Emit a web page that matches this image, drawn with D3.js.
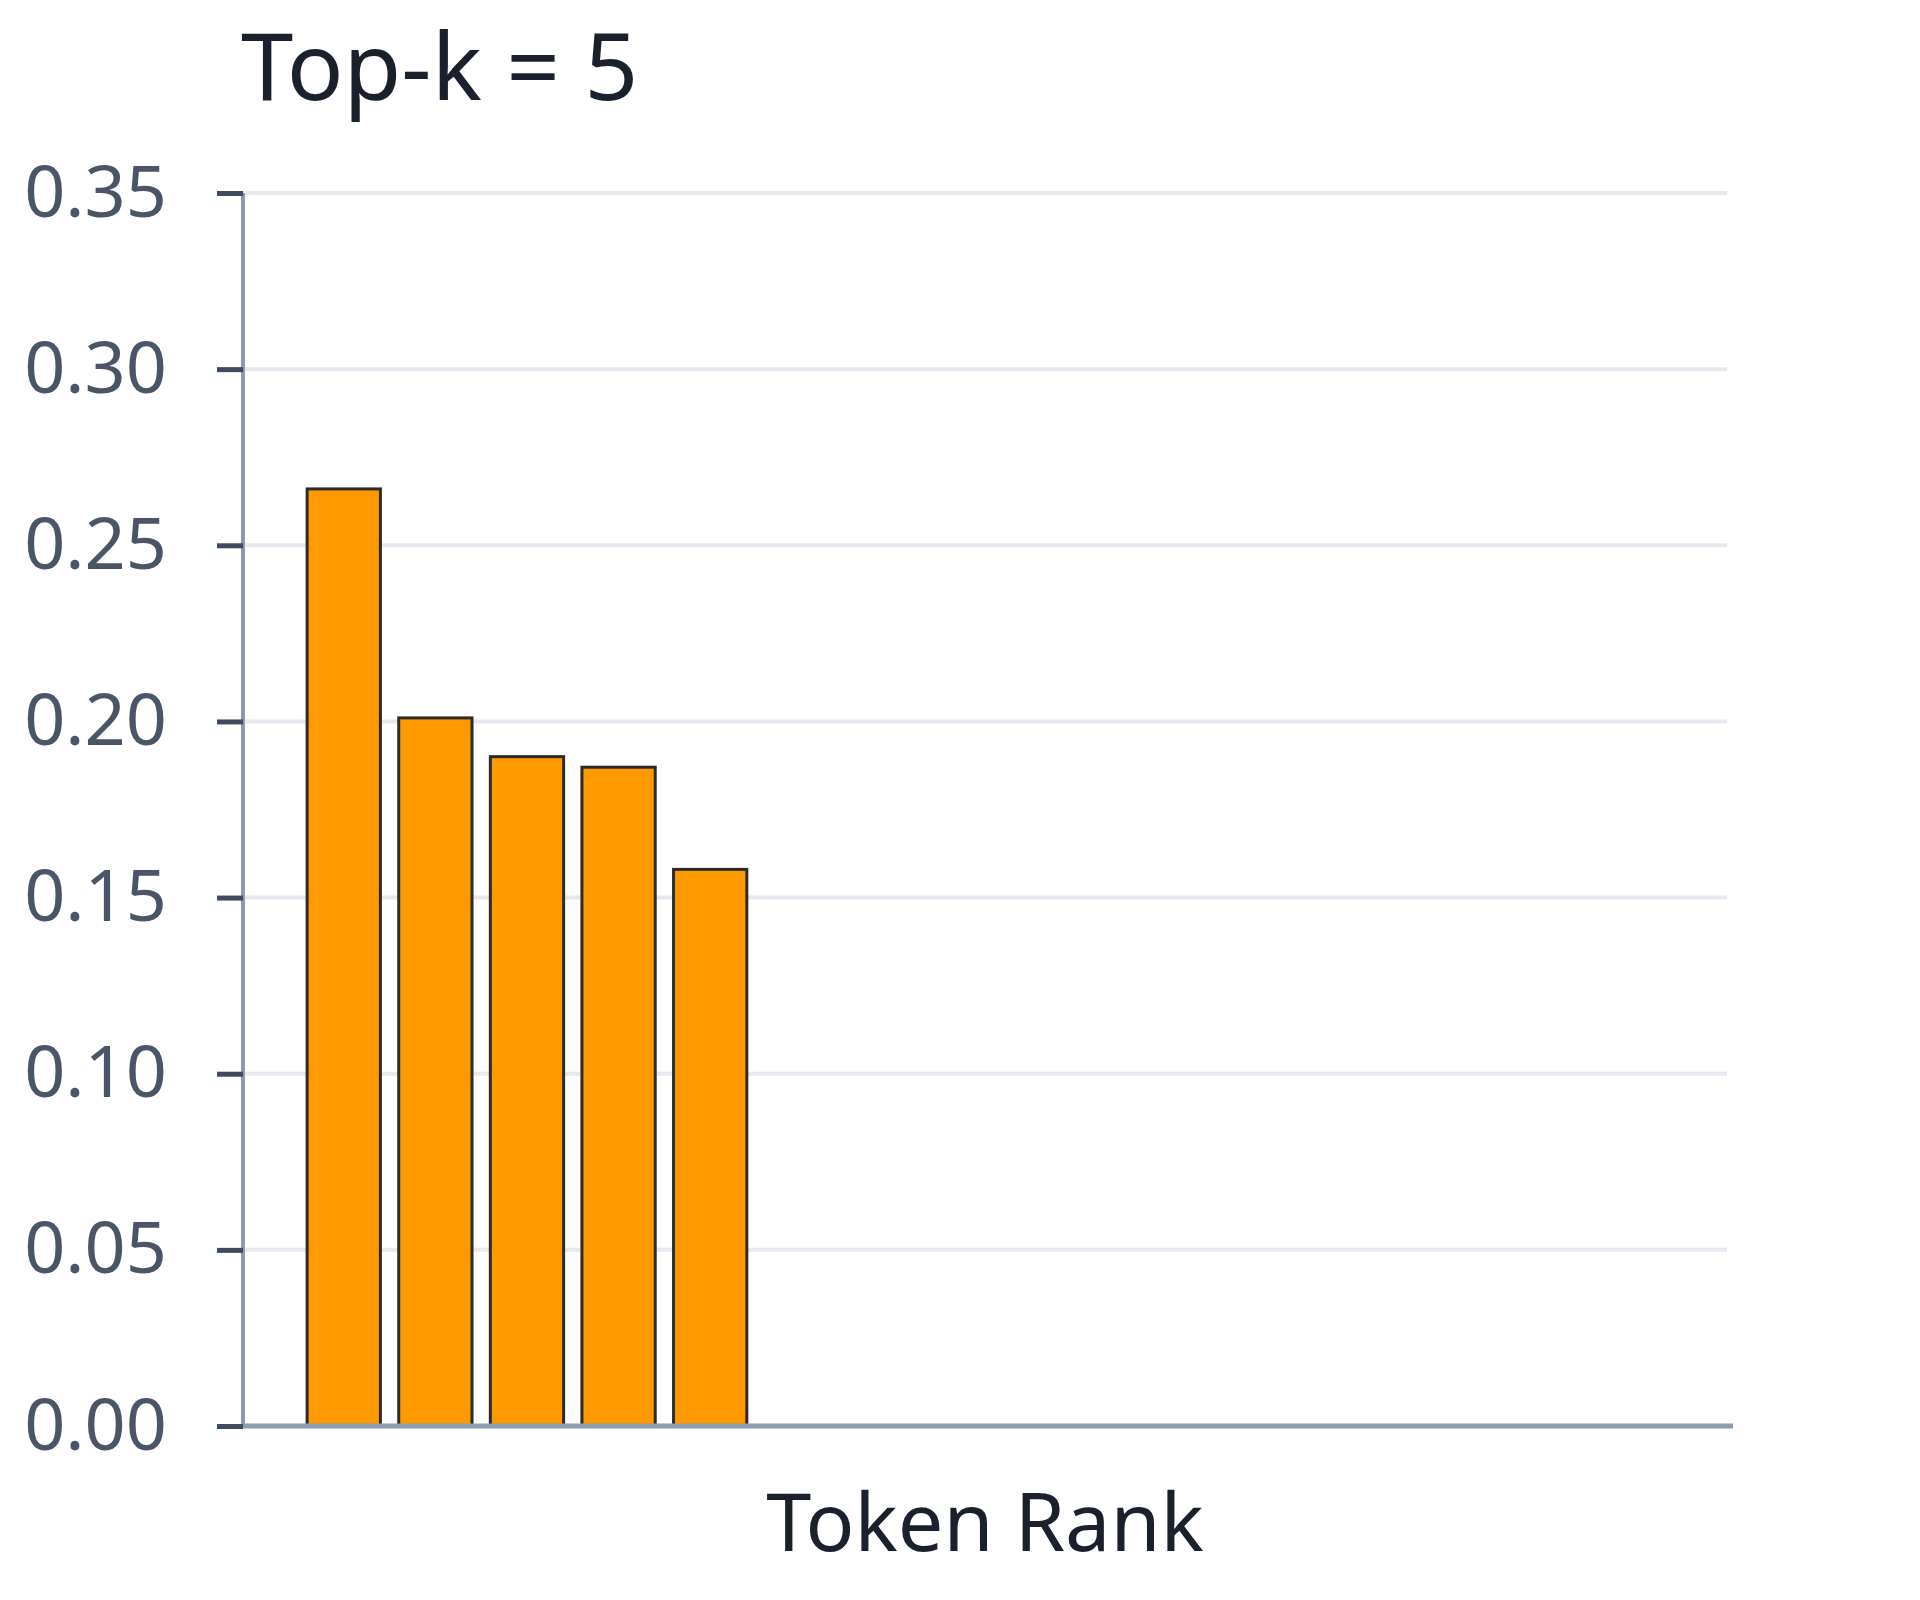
<!DOCTYPE html>
<html>
<head>
<meta charset="utf-8">
<script src="https://cdn.jsdelivr.net/npm/d3@7"></script>
<style>
  html, body { margin: 0; padding: 0; background: #ffffff; }
  svg { display: block; }
</style>
</head>
<body>
<svg id="chart" width="1920" height="1600"></svg>
<script>
// ---- data ----
const chartTitle = "Top-k = 5";
const xLabel = "Token Rank";
const ranks = [1, 2, 3, 4, 5, 6, 7, 8, 9, 10, 11, 12, 13, 14, 15];
const probRanks = [1, 2, 3, 4, 5];
const probabilities = [0.266, 0.201, 0.190, 0.187, 0.158];
const yTicks = [0.00, 0.05, 0.10, 0.15, 0.20, 0.25, 0.30, 0.35];

// ---- layout ----
const svg = d3.select("#chart");
const plotLeft = 243, plotRight = 1727, plotTop = 193, plotBottom = 1426;
const fontFam = "'Noto Sans', 'Open Sans', sans-serif";

const x = d3.scaleBand().domain(ranks).range([plotLeft, plotRight]).paddingInner(0.2).paddingOuter(0.7);
const y = d3.scaleLinear().domain([0, 0.35]).range([plotBottom, plotTop]);

// gridlines
svg.append("g").selectAll("line").data(yTicks.filter(d => d > 0)).join("line")
  .attr("x1", plotLeft).attr("x2", plotRight)
  .attr("y1", d => y(d)).attr("y2", d => y(d))
  .attr("stroke", "#e5e8ee").attr("stroke-width", 4);

// bars
svg.append("g").selectAll("rect").data(probRanks).join("rect")
  .attr("x", d => x(d))
  .attr("width", x.bandwidth())
  .attr("y", (d, i) => y(probabilities[i]))
  .attr("height", (d, i) => y(0) - y(probabilities[i]))
  .attr("fill", "#ff9900")
  .attr("stroke", "#2b2b2b")
  .attr("stroke-width", 3);

// y axis
const yAxis = svg.append("g").attr("transform", `translate(${plotLeft},0)`)
  .call(d3.axisLeft(y).tickValues(yTicks).tickFormat(d3.format(".2f")).tickSize(26).tickPadding(50));
yAxis.select(".domain").attr("stroke", "#8d9bb0").attr("stroke-width", 4)
  .attr("d", `M0,${plotTop}V${plotBottom}`);
yAxis.selectAll(".tick line").attr("stroke", "#3f4a5a").attr("stroke-width", 5);
yAxis.selectAll(".tick text")
  .attr("fill", "#4a5568")
  .style("font-family", fontFam)
  .style("font-size", "72px");

// x axis line
svg.append("line")
  .attr("x1", plotLeft).attr("x2", 1733)
  .attr("y1", y(0)).attr("y2", y(0))
  .attr("stroke", "#8d9bb0").attr("stroke-width", 5);

// title
svg.append("text")
  .attr("x", 241).attr("y", 100)
  .attr("fill", "#1a202c")
  .style("font-family", fontFam)
  .style("font-size", "94px")
  .text(chartTitle);

// x label
svg.append("text")
  .attr("x", (plotLeft + plotRight) / 2).attr("y", 1551)
  .attr("text-anchor", "middle")
  .attr("fill", "#1a202c")
  .style("font-family", fontFam)
  .style("font-size", "81px")
  .text(xLabel);
</script>
</body>
</html>
